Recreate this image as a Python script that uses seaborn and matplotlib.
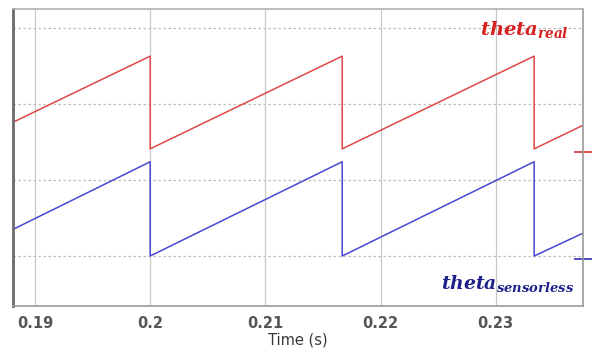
import matplotlib
matplotlib.use("Agg")
import matplotlib.pyplot as plt
import seaborn as sns
import pandas as pd

# ---- data ----
time_pts = [0.18809, 0.2, 0.2, 0.21667, 0.21667, 0.23333, 0.23333, 0.23757]
theta_real = [1.76, 2.63, 1.41, 2.63, 1.41, 2.63, 1.41, 1.72]
theta_sensorless = [0.35, 1.24, 0.0, 1.24, 0.0, 1.24, 0.0, 0.30]
x_ticks = [0.19, 0.2, 0.21, 0.22, 0.23]
x_tick_labels = ["0.19", "0.2", "0.21", "0.22", "0.23"]
y_grid = [0, 1, 2, 3]
trace_levels = [1.37, -0.04]
trace_colors = ["#d83030", "#3030b0"]

sns.set_style("white")
plt.rcParams["font.family"] = ["DejaVu Sans"]
plt.rcParams["mathtext.fontset"] = "custom"
plt.rcParams["mathtext.it"] = "DejaVu Serif:italic:bold"
plt.rcParams["mathtext.rm"] = "DejaVu Serif:bold"

fig = plt.figure(figsize=(5.95, 3.48), dpi=100)
ax = fig.add_axes([13/595, 1-306/348, (583-13)/595, (306-9)/348])

df_real = pd.DataFrame({"t": time_pts, "v": theta_real})
df_sens = pd.DataFrame({"t": time_pts, "v": theta_sensorless})
sns.lineplot(data=df_real, x="t", y="v", ax=ax, color="#e04848", lw=1.1, sort=False, estimator=None)
sns.lineplot(data=df_sens, x="t", y="v", ax=ax, color="#4848d0", lw=1.1, sort=False, estimator=None)

ax.set_xlim(0.18809, 0.23757)
ax.set_ylim(-0.658, 3.25)

for xv in x_ticks:
    ax.axvline(xv, color="#c8c8c8", lw=0.9, zorder=0)
for yv in y_grid:
    ax.axhline(yv, color="#bdbdbd", lw=0.9, ls=(0, (2, 2)), zorder=0)

ax.set_xticks(x_ticks)
ax.set_xticklabels(x_tick_labels, fontweight="bold")
ax.set_yticks([])
ax.tick_params(axis="x", length=0, pad=7, labelsize=10.5, labelcolor="#555555")
ax.set_xlabel("Time (s)", fontsize=10.5, color="#383838", labelpad=1)
ax.set_ylabel("")

for name, sp in ax.spines.items():
    sp.set_visible(True)
    sp.set_color("#9a9a9a")
    sp.set_linewidth(1.2)
ax.spines["left"].set_color("#6a6a6a")
ax.spines["left"].set_linewidth(2.0)
ax.spines["top"].set_color("#b0b0b0")

# right-side trace level markers
ax.hlines(trace_levels, 0.985, 1.015, transform=ax.get_yaxis_transform(),
          colors=trace_colors, lw=1.2, clip_on=False)

ax.text(0.975, 0.93, r"$theta_{real}$", transform=ax.transAxes, ha="right", va="center",
        color="#d82020", fontsize=14)
ax.text(0.985, 0.075, r"$theta_{sensorless}$", transform=ax.transAxes, ha="right", va="center",
        color="#20208a", fontsize=13.5)

fig.savefig("out.png", dpi=100)
